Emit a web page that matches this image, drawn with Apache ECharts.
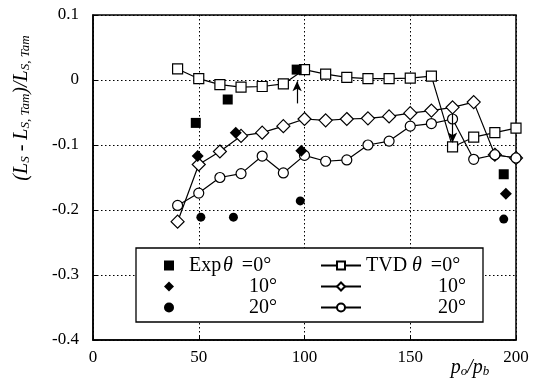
<!DOCTYPE html>
<html lang="en">
<head>
<meta charset="UTF-8">
<title>Ls deviation vs pressure ratio</title>
<script src="https://cdn.jsdelivr.net/npm/echarts@6/dist/echarts.min.js"></script>
<style>
  body { margin: 0; background: #fff; }
</style>
</head>
<body>
<div id="main" style="width:534px;height:381px;"></div>
<script type="text/javascript">
// TVD computation, pressure ratio po/pb
const tvdX = [40, 50, 60, 70, 80, 90, 100, 110, 120, 130, 140, 150, 160, 170, 180, 190, 200];
const tvd0 = [0.017, 0.002, -0.007, -0.011, -0.010, -0.006, 0.016, 0.009, 0.004, 0.002, 0.002, 0.003, 0.006, -0.103, -0.088, -0.081, -0.074];
const tvd10 = [-0.218, -0.130, -0.110, -0.086, -0.081, -0.071, -0.060, -0.062, -0.060, -0.059, -0.056, -0.051, -0.047, -0.042, -0.034, -0.115, -0.120];
const tvd20 = [-0.193, -0.174, -0.150, -0.144, -0.117, -0.143, -0.116, -0.125, -0.123, -0.100, -0.094, -0.071, -0.067, -0.060, -0.122, -0.115, -0.120];

// experiments
const exp0X = [48.6, 63.7, 96.3, 194.2];
const exp0Y = [-0.066, -0.030, 0.016, -0.145];
const exp10X = [49.5, 67.5, 98.5, 195.2];
const exp10Y = [-0.117, -0.081, -0.109, -0.175];
const exp20X = [51, 66.4, 98, 194.2];
const exp20Y = [-0.211, -0.211, -0.186, -0.214];

// annotation arrows [x, yFrom, yTo]
const arrows = [[96.5, -0.036, -0.002], [170, -0.052, -0.096]];

const xTicks = [0, 50, 100, 150, 200];
const yTicks = [-0.4, -0.3, -0.2, -0.1, 0, 0.1];

// legend rows: [first word, angle label]
const legendRows = {
  exp0: ['Exp', '=0°'], exp10: [null, '10°'], exp20: [null, '20°'],
  tvd0: ['TVD', '=0°'], tvd10: [null, '10°'], tvd20: [null, '20°']
};

const serif = 'Liberation Serif';
const pair = (xs, ys) => xs.map((x, i) => [x, ys[i]]);

const chart = echarts.init(document.getElementById('main'));

function tvdSeries(name, ys, symbol, size) {
  return {
    name: name,
    type: 'line',
    data: pair(tvdX, ys),
    symbol: symbol,
    symbolSize: size,
    showAllSymbol: true,
    lineStyle: { color: '#000', width: 1.2 },
    itemStyle: { color: '#fff', borderColor: '#000', borderWidth: 1.2 },
    z: 3
  };
}

function expSeries(name, xs, ys, symbol, size) {
  return {
    name: name,
    type: 'scatter',
    data: pair(xs, ys),
    symbol: symbol,
    symbolSize: size,
    itemStyle: { color: '#000', opacity: 1 },
    z: 4
  };
}

function legendFormatter(spacer, wordWidth) {
  return n => {
    const row = legendRows[n];
    const sp = spacer > 0 ? '{sp|}' : '';
    if (row[0]) {
      return sp + '{w' + wordWidth + '|' + row[0] + '}{t|θ}{b|' + row[1] + '}';
    }
    return sp + '{r' + wordWidth + '|' + row[1] + '}';
  };
}

function legendText(spacer, wordWidth) {
  const base = { fontFamily: serif, fontSize: 20, color: '#000', lineHeight: 21 };
  const rich = {
    sp: Object.assign({}, base, { width: spacer }),
    t: Object.assign({}, base, { fontStyle: 'italic', width: 13 }),
    b: Object.assign({}, base, { width: 41, align: 'center' })
  };
  rich['w' + wordWidth] = Object.assign({}, base, { width: wordWidth });
  rich['r' + wordWidth] = Object.assign({}, base, { width: wordWidth + 54, align: 'right' });
  return Object.assign({}, base, { rich: rich });
}

chart.setOption({
  animation: false,
  backgroundColor: '#fff',
  grid: { left: 93, right: 18, top: 15, bottom: 41, show: true, borderColor: '#000', borderWidth: 1.5, z: 1 },
  xAxis: {
    type: 'value', min: 0, max: 200, interval: 50,
    axisLine: { show: true, onZero: false, lineStyle: { color: '#000', width: 1.5 } },
    axisTick: { show: true, inside: true, length: 5, lineStyle: { color: '#000' } },
    axisLabel: { color: '#000', fontFamily: serif, fontSize: 17, margin: 9,
      formatter: v => xTicks.includes(v) ? String(v) : '' },
    splitLine: { show: true, lineStyle: { color: '#000', type: [1.5, 2.5], width: 1 } }
  },
  yAxis: {
    type: 'value', min: -0.4, max: 0.1, interval: 0.1,
    axisLine: { show: true, onZero: false, lineStyle: { color: '#000', width: 1.5 } },
    axisTick: { show: true, inside: true, length: 5, lineStyle: { color: '#000' } },
    axisLabel: { color: '#000', fontFamily: serif, fontSize: 17, margin: 14,
      formatter: v => {
        const t = yTicks.find(k => Math.abs(k - v) < 1e-6);
        return t === undefined ? '' : (Math.abs(t) < 1e-9 ? '0' : t.toFixed(1));
      } },
    splitLine: { show: true, lineStyle: { color: '#000', type: [1.5, 2.5], width: 1 } }
  },
  legend: [
    {
      data: ['exp0', 'exp10', 'exp20'],
      orient: 'vertical', left: 159, top: 250, itemGap: 0,
      itemWidth: 10, itemHeight: 10,
      textStyle: legendText(10, 34),
      formatter: legendFormatter(10, 34),
      z: 6
    },
    {
      data: ['tvd0', 'tvd10', 'tvd20'],
      orient: 'vertical', left: 315, top: 250, itemGap: 0,
      itemWidth: 40, itemHeight: 10,
      textStyle: legendText(0, 46),
      formatter: legendFormatter(0, 46),
      z: 6
    }
  ],
  graphic: [
    {
      type: 'rect', z: 5,
      shape: { x: 136, y: 248, width: 347, height: 74 },
      style: { fill: '#fff', stroke: '#000', lineWidth: 1.3 }
    },
    {
      type: 'text', x: 22, y: 108, rotation: Math.PI / 2,
      style: {
        text: '{i|(L}{s|S}{i| - L}{s|S, Tam}{i|)/L}{s|S, Tam}',
        align: 'center', verticalAlign: 'middle',
        rich: {
          i: { fontFamily: serif, fontStyle: 'italic', fontSize: 20, lineHeight: 20, fill: '#000' },
          s: { fontFamily: serif, fontStyle: 'italic', fontSize: 13, lineHeight: 10, verticalAlign: 'bottom', fill: '#000' }
        }
      }
    },
    {
      type: 'text', x: 470, y: 368,
      style: {
        text: '{i|p}{s|o}{i|/p}{s|b}',
        align: 'center', verticalAlign: 'middle',
        rich: {
          i: { fontFamily: serif, fontStyle: 'italic', fontSize: 20, lineHeight: 20, fill: '#000' },
          s: { fontFamily: serif, fontStyle: 'italic', fontSize: 13, lineHeight: 10, verticalAlign: 'bottom', fill: '#000' }
        }
      }
    }
  ],
  series: [
    expSeries('exp0', exp0X, exp0Y, 'rect', 10),
    expSeries('exp10', exp10X, exp10Y, 'diamond', 12),
    expSeries('exp20', exp20X, exp20Y, 'circle', 9),
    Object.assign(tvdSeries('tvd0', tvd0, 'rect', 10), {
      markLine: {
        silent: true, symbol: ['none', 'arrow'], symbolSize: [7, 10],
        lineStyle: { color: '#000', width: 1.2, type: 'solid' },
        label: { show: false },
        data: arrows.map(a => [{ coord: [a[0], a[1]] }, { coord: [a[0], a[2]] }])
      }
    }),
    tvdSeries('tvd10', tvd10, 'diamond', 13),
    tvdSeries('tvd20', tvd20, 'circle', 10)
  ]
});
</script>
</body>
</html>
